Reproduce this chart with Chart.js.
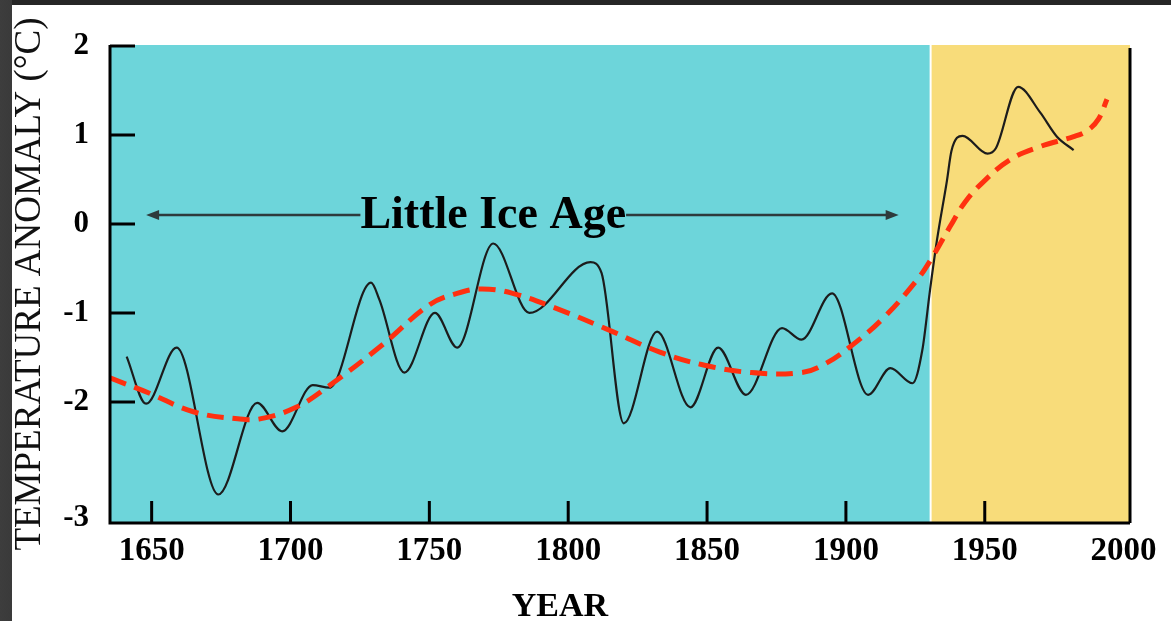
<!DOCTYPE html>
<html>
<head>
<meta charset="utf-8">
<script src="https://cdn.jsdelivr.net/npm/chart.js@4.4.1/dist/chart.umd.min.js"></script>
<style>
  html, body { margin: 0; padding: 0; width: 1171px; height: 621px; overflow: hidden; }
  body { background: linear-gradient(to right, #3d3d3d 0, #3a3a3a 12px, #262626 12px); }
  #wrap { position: absolute; left: 12px; top: 5px; width: 1159px; height: 616px; background: #fff; }
</style>
</head>
<body>
<div id="wrap"><canvas id="chart" width="1159" height="616"></canvas></div>
<script>
// black curve (annual-ish reconstruction)
const blackYears = [1641, 1648, 1659, 1674, 1688, 1697, 1708, 1714, 1729, 1732, 1741, 1752, 1760, 1773, 1786, 1808, 1812, 1820, 1832, 1844, 1854, 1864, 1877, 1884, 1895, 1908, 1916, 1924, 1927.5, 1930.3, 1932.8, 1936.4, 1938, 1942, 1951, 1954, 1962, 1970, 1976, 1982];
const blackTemps = [-1.49, -2.02, -1.39, -3.04, -2.01, -2.33, -1.81, -1.84, -0.66, -0.85, -1.67, -1.00, -1.39, -0.22, -1.00, -0.43, -0.55, -2.24, -1.21, -2.06, -1.39, -1.92, -1.17, -1.30, -0.78, -1.92, -1.62, -1.79, -1.42, -0.74, -0.18, 0.49, 0.82, 0.99, 0.79, 0.85, 1.54, 1.25, 0.98, 0.83];

// red dashed smoothed trend
const redYears = [1635, 1649, 1665, 1681, 1689, 1702, 1713, 1733, 1750, 1760, 1769, 1780, 1795, 1816, 1833, 1848, 1866, 1884, 1892, 1901.5, 1913.4, 1925.6, 1931, 1937.5, 1943, 1949.4, 1959, 1970, 1982, 1987, 1991, 1994];
const redTemps = [-1.73, -1.90, -2.11, -2.19, -2.19, -2.06, -1.84, -1.36, -0.91, -0.78, -0.73, -0.78, -0.94, -1.21, -1.44, -1.58, -1.67, -1.67, -1.58, -1.38, -1.06, -0.63, -0.38, -0.03, 0.25, 0.47, 0.72, 0.87, 0.98, 1.05, 1.18, 1.40];

const xTicks = [1650, 1700, 1750, 1800, 1850, 1900, 1950, 2000];
const yTicks = [2, 1, 0, -1, -2, -3.3];
const yTickLabels = ['2', '1', '0', '-1', '-2', '-3'];
const warmStart = 1930.5;
const iceAge = { from: 1648, to: 1919, level: 0.1, label: 'Little Ice Age', labelAt: 1773 };

const serif = '"Liberation Serif", "Times New Roman", serif';

const decor = {
  id: 'decor',
  beforeDatasetsDraw(chart) {
    const { ctx, chartArea: a, scales: { x } } = chart;
    const bx = x.getPixelForValue(warmStart);
    ctx.save();
    ctx.fillStyle = '#6dd5da';
    ctx.fillRect(a.left, a.top, bx - 1 - a.left, a.bottom - a.top);
    ctx.fillStyle = '#f8dc7a';
    ctx.fillRect(bx + 1, a.top, a.right - bx - 1, a.bottom - a.top);
    ctx.restore();
  },
  afterDatasetsDraw(chart) {
    const { ctx, chartArea: a, scales: { x, y } } = chart;
    ctx.save();
    // axes
    ctx.strokeStyle = '#000';
    ctx.lineWidth = 3;
    ctx.beginPath();
    ctx.moveTo(a.left, a.top);
    ctx.lineTo(a.left, a.bottom);
    ctx.lineTo(a.right, a.bottom);
    ctx.moveTo(a.right, a.top + 3);
    ctx.lineTo(a.right, a.bottom);
    ctx.stroke();
    // inward tick marks
    ctx.beginPath();
    yTicks.slice(0, 5).forEach(v => {
      const py = y.getPixelForValue(v);
      ctx.moveTo(a.left, py);
      ctx.lineTo(a.left + 25, py);
    });
    xTicks.slice(0, 7).forEach(v => {
      const px = x.getPixelForValue(v);
      ctx.moveTo(px, a.bottom);
      ctx.lineTo(px, a.bottom - 22);
    });
    ctx.stroke();

    // Little Ice Age arrow
    const ly = y.getPixelForValue(iceAge.level);
    const x1 = x.getPixelForValue(iceAge.from);
    const x2 = x.getPixelForValue(iceAge.to);
    const cx = x.getPixelForValue(iceAge.labelAt);
    ctx.font = 'bold 46px ' + serif;
    const tw = ctx.measureText(iceAge.label).width;
    ctx.strokeStyle = '#2e3b3c';
    ctx.fillStyle = '#2e3b3c';
    ctx.lineWidth = 2.5;
    ctx.beginPath();
    ctx.moveTo(x1 + 8, ly);
    ctx.lineTo(cx - tw / 2, ly);
    ctx.moveTo(cx + tw / 2, ly);
    ctx.lineTo(x2 - 8, ly);
    ctx.stroke();
    ctx.beginPath();
    ctx.moveTo(x1, ly); ctx.lineTo(x1 + 13, ly - 5); ctx.lineTo(x1 + 13, ly + 5); ctx.closePath();
    ctx.moveTo(x2, ly); ctx.lineTo(x2 - 13, ly - 5); ctx.lineTo(x2 - 13, ly + 5); ctx.closePath();
    ctx.fill();
    ctx.fillStyle = '#000';
    ctx.textAlign = 'center';
    ctx.textBaseline = 'alphabetic';
    ctx.fillText(iceAge.label, cx, ly + 13);

    // x axis title
    ctx.font = 'bold 34px ' + serif;
    ctx.textBaseline = 'middle';
    ctx.fillText('YEAR', x.getPixelForValue(1797), a.bottom + 84);
    ctx.restore();
  }
};

new Chart(document.getElementById('chart'), {
  type: 'line',
  data: {
    datasets: [
      {
        label: 'Trend',
        data: redYears.map((yr, i) => ({ x: yr, y: redTemps[i] })),
        borderColor: '#ff3010',
        borderWidth: 5,
        borderDash: [17, 9],
        pointRadius: 0,
        tension: 0.4,
        fill: false
      },
      {
        label: 'Temperature',
        data: blackYears.map((yr, i) => ({ x: yr, y: blackTemps[i] })),
        borderColor: '#1c1c1c',
        borderWidth: 2.2,
        pointRadius: 0,
        cubicInterpolationMode: 'monotone',
        fill: false
      }
    ]
  },
  options: {
    responsive: false,
    animation: false,
    layout: { padding: { top: 40, right: 41, left: 0, bottom: 0 } },
    plugins: { legend: { display: false }, tooltip: { enabled: false } },
    scales: {
      x: {
        type: 'linear',
        min: 1635,
        max: 2002.3,
        grid: { display: false },
        border: { display: false },
        afterBuildTicks: s => { s.ticks = xTicks.map(v => ({ value: v })); },
        afterFit: s => { s.height = 98; },
        ticks: {
          color: '#000',
          padding: 1,
          maxRotation: 0,
          autoSkip: false,
          font: { family: serif, size: 33, weight: 'bold' },
          callback: v => String(v)
        }
      },
      y: {
        type: 'linear',
        min: -3.36,
        max: 2.01,
        grid: { display: false },
        border: { display: false },
        afterBuildTicks: s => { s.ticks = yTicks.map(v => ({ value: v })); },
        afterFit: s => { s.width = 98; },
        ticks: {
          color: '#000',
          padding: 13,
          autoSkip: false,
          font: { family: serif, size: 31, weight: 'bold' },
          callback: v => yTickLabels[yTicks.indexOf(v)]
        },
        title: {
          display: true,
          text: 'TEMPERATURE ANOMALY (°C)',
          color: '#111',
          padding: { top: 0, bottom: 0 },
          font: { family: serif, size: 37, lineHeight: 1 }
        }
      }
    }
  },
  plugins: [decor]
});
</script>
</body>
</html>
